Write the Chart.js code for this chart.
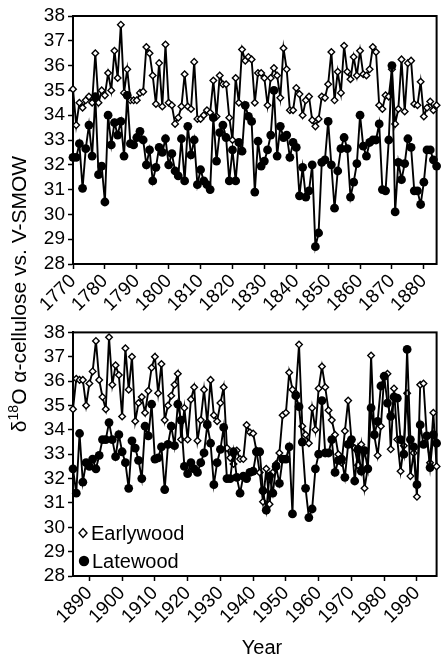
<!DOCTYPE html>
<html>
<head>
<meta charset="utf-8">
<script src="https://cdn.jsdelivr.net/npm/chart.js@4.4.1/dist/chart.umd.min.js"></script>
<style>
  html, body { margin: 0; padding: 0; background: #fff; }
  body { width: 442px; height: 658px; position: relative; overflow: hidden;
         font-family: "Liberation Sans", Arial, Helvetica, sans-serif; color: #000; }
  canvas { position: absolute; left: 0; }
  #c1 { top: 0; }
  #c2 { top: 318px; }
  #ytitle { position: absolute; left: -181px; top: 281px; width: 400px; height: 26px; line-height: 26px;
            text-align: center; font-size: 21px; transform: rotate(-90deg); white-space: nowrap; }
  #ytitle sup { font-size: 14px; vertical-align: 0; position: relative; top: -8px; }
  #xtitle { position: absolute; left: 212px; width: 100px; top: 636px; text-align: center; font-size: 20px; line-height: 22px; }
  .leg { position: absolute; font-size: 20px; line-height: 22px; white-space: nowrap; }
  .leg svg { position: absolute; }
</style>
</head>
<body>
<canvas id="c1" width="442" height="318"></canvas>
<canvas id="c2" width="442" height="340"></canvas>
<div id="ytitle">δ<sup>18</sup>O α-cellulose vs. V-SMOW</div>
<div id="xtitle">Year</div>
<div class="leg" style="left:77px; top:522px;">
  <svg width="12" height="12" style="left:0;top:5px"><polygon points="6,1.5 10,6 6,10.5 2,6" fill="#fff" stroke="#000" stroke-width="1.4"/></svg>
  <span style="position:absolute;left:14px;top:0">Earlywood</span>
</div>
<div class="leg" style="left:77px; top:550px;">
  <svg width="14" height="14" style="left:0;top:4px"><circle cx="7" cy="7" r="5.2" fill="#000"/></svg>
  <span style="position:absolute;left:15px;top:0">Latewood</span>
</div>
<script>
// ---- data ----
const yTicks = [28, 29, 30, 31, 32, 33, 34, 35, 36, 37, 38];
const topTicks = [1770, 1780, 1790, 1800, 1810, 1820, 1830, 1840, 1850, 1860, 1870, 1880];
const bottomTicks = [1890, 1900, 1910, 1920, 1930, 1940, 1950, 1960, 1970, 1980, 1990];
const topFirstYear = 1770;
const bottomFirstYear = 1885;

const topEarlywood = [
  35.05, 33.6, 34.5, 34.3, 34.6, 34.75, 34.5, 36.5, 34.5, 35.0,
  34.8, 35.7, 35.0, 36.6, 35.5, 37.65, 34.9, 35.85, 34.6, 34.6,
  34.6, 34.9, 34.95, 36.75, 36.5, 35.6, 34.45, 36.1, 34.35, 36.85,
  34.5, 34.4, 33.65, 33.9, 34.35, 35.65, 34.35, 34.25, 36.15, 33.85,
  33.85, 34.0, 34.2, 34.1, 35.4, 33.95, 35.6, 35.25, 35.25, 33.9,
  33.0, 35.5, 34.5, 36.65, 36.2, 36.35, 36.25, 34.5, 35.7, 35.7,
  35.5, 34.4, 35.5, 35.9, 35.6, 34.7, 36.7, 35.85, 34.2, 34.2,
  35.1, 34.85, 34.0, 34.6, 34.75, 33.8, 33.55, 33.85, 34.75, 34.7,
  35.25, 36.55, 34.6, 35.75, 34.9, 36.8, 35.75, 35.45, 36.35, 35.6,
  36.6, 35.65, 35.6, 35.85, 36.75, 36.55,
  34.4, 34.25, 34.8, 34.75, 35.85, 33.65, 34.25, 36.25, 34.15, 36.1,
  36.2, 34.45, 34.4, 35.35, 33.95, 34.3, 34.55, 34.2, 34.4
];
const topLatewood = [
  32.3, 32.3, 32.85, 31.05, 32.65, 33.6, 32.35, 34.75, 31.6, 31.95,
  30.5, 34.0, 32.8, 33.7, 33.2, 33.75, 32.35, 34.8, 32.85, 32.8,
  33.1, 33.35, 33.0, 32.0, 32.6, 31.35, 31.9, 32.7, 32.5, 33.05,
  32.0, 32.45, 31.75, 31.55, 33.05, 31.35, 33.55, 32.4, 33.0, 31.2,
  31.8, 31.35, 31.2, 31.0, 33.9, 32.15, 33.3, 33.6, 33.1, 31.35,
  32.6, 31.35, 32.9, 32.55, 34.4, 33.95, 33.75, 30.9, 32.95, 31.95,
  32.15, 32.6, 33.2, 35.0, 32.35, 33.55, 33.1, 33.2, 32.3, 32.9,
  32.7, 30.75, 31.9, 30.7, 30.95, 32.0,
  28.7, 29.25, 32.1, 32.2, 33.75, 32.0, 30.25, 31.75, 32.65, 33.1,
  32.65, 30.7, 31.3, 32.05, 34.0, 32.75, 32.35, 32.9, 33.0, 33.0,
  33.65, 31.0, 30.95, 33.0, 36.0, 30.1, 32.1, 31.4, 32.05, 33.05,
  32.7, 30.95, 30.95, 30.4, 31.3, 32.6, 32.6, 32.2, 31.95
];
const bottomEarlywood = [
  34.85, 36.1, 36.05, 36.05, 35.0, 35.9, 36.4, 37.65, 36.05, 35.35,
  34.85, 37.8, 35.85, 36.65, 36.25, 34.55, 37.35, 35.65, 37.0, 34.35,
  35.1, 35.35, 34.7, 35.6, 36.55, 37.0, 35.5, 36.7, 34.4, 35.0,
  35.4, 35.85, 36.3, 33.6, 34.9, 33.6, 35.25, 35.75, 33.55, 34.4,
  35.65, 34.3, 36.05, 34.6, 34.35, 35.1, 35.75, 33.25, 32.85, 32.6,
  33.15, 32.8, 32.8, 34.2, 33.9, 33.85, 33.15, 32.25, 31.05, 32.4,
  30.95, 32.25, 32.6, 33.05, 34.6, 34.7, 36.35, 35.65, 35.5, 37.5,
  34.15, 33.8, 33.45, 34.9,
  34.0, 35.7, 36.6, 35.75, 34.8, 34.4, 33.8, 33.0, 32.65, 33.95,
  35.2, 33.6, 33.25, 32.55, 33.4, 31.6, 32.45, 37.05, 33.75, 32.95,
  34.15, 36.2, 36.3, 33.2, 35.7, 33.6, 32.3, 33.35, 35.5, 32.1,
  33.05, 31.25, 35.85, 35.9, 33.75, 32.65, 34.7, 32.5
];
const bottomLatewood = [
  32.4, 31.4, 33.85, 31.85, 32.65, 32.5, 32.8, 32.4, 32.95, 33.6,
  33.6, 34.3, 33.6, 32.9, 33.8, 33.1, 32.65, 31.6, 33.55, 33.25,
  32.75, 32.0, 34.15, 33.75, 35.05, 32.8, 32.85, 33.3, 31.55, 33.4,
  34.15, 33.35, 35.05, 34.4, 32.5, 32.2,
  32.65, 32.4, 32.25, 32.65, 33.05, 34.2, 33.45, 31.75, 32.65, 33.2,
  34.1, 32.0, 32.0, 33.1, 32.05, 31.4, 32.1, 32.0, 32.25, 32.3,
  33.1, 33.1, 31.5, 30.7, 32.1, 31.4, 32.5, 31.8, 32.8, 32.8,
  33.3, 30.55, 35.4, 34.95, 33.5, 31.6, 30.4, 30.75, 32.4,
  33.0, 35.2, 33.05, 33.05, 33.6, 32.25, 32.75, 32.8, 32.05, 33.4,
  33.6, 31.9, 33.2, 32.3, 33.15, 32.4, 34.9, 33.8, 34.35, 35.8,
  36.2, 35.1, 34.55, 35.35, 35.3, 33.6, 33.0, 37.3, 33.6, 33.3,
  31.75, 34.2, 33.4, 33.75, 32.45, 33.8, 33.45
];

const topYears = topEarlywood.map((_, i) => topFirstYear + i);
const bottomYears = bottomEarlywood.map((_, i) => bottomFirstYear + i);

// ---- chart ----
const FONT = '"Liberation Sans", Arial, Helvetica, sans-serif';

const frame = {
  id: 'frame',
  beforeDatasetsDraw(chart) {
    const a = chart.chartArea, ctx = chart.ctx;
    ctx.save();
    ctx.strokeStyle = '#000';
    ctx.lineWidth = 2;
    ctx.strokeRect(a.left, a.top, a.right - a.left, a.bottom - a.top);
    ctx.restore();
  }
};

function pts(years, vals) { return vals.map((v, i) => ({ x: years[i], y: v })); }

function makeChart(id, years, early, late, xmin, xmax, xticks, pad, xAxisH) {
  return new Chart(document.getElementById(id), {
    type: 'line',
    data: {
      datasets: [
        { label: 'Latewood', data: pts(years, late), borderColor: '#000', borderWidth: 1.9,
          pointStyle: 'circle', pointRadius: 4.4, pointBackgroundColor: '#000', pointBorderColor: '#000',
          pointBorderWidth: 0, tension: 0, clip: false },
        { label: 'Earlywood', data: pts(years, early), borderColor: '#000', borderWidth: 1.9,
          pointStyle: 'rectRot', pointRadius: 3.3, pointBackgroundColor: '#fff', pointBorderColor: '#000',
          pointBorderWidth: 1.4, tension: 0, clip: false }
      ]
    },
    options: {
      responsive: false, animation: false, devicePixelRatio: 1,
      layout: { padding: pad },
      plugins: { legend: { display: false }, tooltip: { enabled: false } },
      scales: {
        x: {
          type: 'linear', min: xmin, max: xmax,
          afterBuildTicks: s => { s.ticks = xticks.map(v => ({ value: v })); },
          afterFit: s => { s.height = xAxisH; },
          grid: { display: true, drawOnChartArea: false, drawTicks: true, tickLength: 5, tickWidth: 1.5, tickColor: '#000' },
          border: { display: true, color: '#000', width: 2 },
          ticks: { color: '#000', font: { family: FONT, size: 19 }, minRotation: 45, maxRotation: 45, padding: 1,
                   autoSkip: false, callback: v => String(v) }
        },
        y: {
          min: 28, max: 38,
          afterBuildTicks: s => { s.ticks = yTicks.map(v => ({ value: v })); },
          afterFit: s => { s.width = 73; },
          grid: { display: true, drawOnChartArea: false, drawTicks: true, tickLength: 5, tickWidth: 1.5, tickColor: '#000' },
          border: { display: true, color: '#000', width: 2 },
          ticks: { color: '#000', font: { family: FONT, size: 19 }, padding: 3, autoSkip: false }
        }
      }
    },
    plugins: [frame]
  });
}

makeChart('c1', topYears, topEarlywood, topLatewood, 1770, 1884, topTicks,
          { top: 16, right: 4, left: 0, bottom: 0 }, 54);
makeChart('c2', bottomYears, bottomEarlywood, bottomLatewood, 1885, 1996, bottomTicks,
          { top: 11, right: 5, left: 0, bottom: 0 }, 82);
</script>
</body>
</html>
